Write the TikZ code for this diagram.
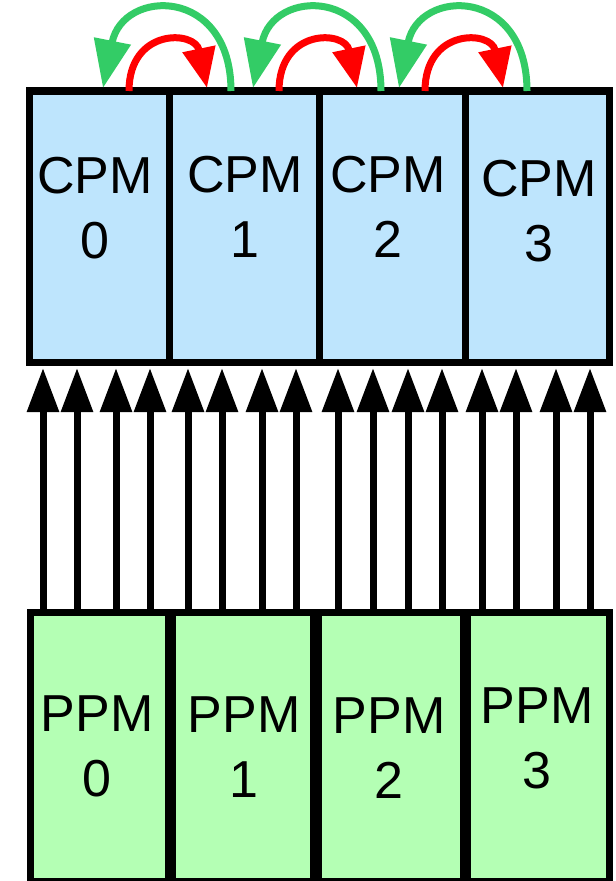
\documentclass[tikz,border=0pt]{standalone}
\usepackage{fontspec}
\setmainfont{Liberation Sans}
\usetikzlibrary{arrows.meta, calc}
\definecolor{cpmblue}{RGB}{190,229,253}
\definecolor{ppmgreen}{RGB}{180,255,180}
\definecolor{ringgreen}{RGB}{51,204,102}
\tikzset{
  % --- module boxes ---
  modbox/.style={draw, line width=5.25pt, inner sep=0pt, outer sep=0pt},
  cpmbox/.style={modbox, fill=cpmblue, minimum height=203.25pt},
  ppmbox/.style={modbox, fill=ppmgreen, minimum height=201.75pt},
  modtext/.style={font=\fontsize{39pt}{48.75pt}\selectfont, align=center, inner sep=0pt},
  % --- links ---
  bus/.style={line width=5.25pt, -{Triangle[length=33pt, width=23pt]}, shorten >=4.5pt},
  fwd/.style={red, line width=5.25pt, -{Triangle[length=30pt, width=24pt]}},
  bwd/.style={ringgreen, line width=5.25pt, -{Triangle[length=36pt, width=27pt]}},
}

\begin{document}
\begin{tikzpicture}[x=0.75pt, y=-0.75pt]
  \useasboundingbox (0,0) rectangle (616,881);
  % compute modules
  \node[cpmbox, minimum width=105pt]   (cpm0) at (99,226.5)  {};
  \node[cpmbox, minimum width=112.5pt] (cpm1) at (244,226.5) {};
  \node[cpmbox, minimum width=109.5pt] (cpm2) at (392,226.5) {};
  \node[cpmbox, minimum width=108pt]   (cpm3) at (537,226.5) {};
  \node[modtext] (cpm0txt) at (95,208)    {CPM\\0};
  \node[modtext] (cpm1txt) at (245,206.5) {CPM\\1};
  \node[modtext] (cpm2txt) at (388,207)   {CPM\\2};
  \node[modtext] (cpm3txt) at (539,211.5) {CPM\\3};
  % packet modules
  \node[ppmbox, minimum width=103.5pt]  (ppm0) at (99,746.5)  {};
  \node[ppmbox, minimum width=105.75pt] (ppm1) at (242.5,746.5) {};
  \node[ppmbox, minimum width=108.75pt] (ppm2) at (390.5,746.5) {};
  \node[ppmbox, minimum width=106.5pt]  (ppm3) at (538,746.5) {};
  \node[modtext] (ppm0txt) at (97,746.5)  {PPM\\0};
  \node[modtext] (ppm1txt) at (244,747.5) {PPM\\1};
  \node[modtext] (ppm2txt) at (389,748)   {PPM\\2};
  \node[modtext] (ppm3txt) at (537,738)   {PPM\\3};
  % four lanes from each PPM up to its CPM
  \foreach \x/\m in {43/0,77/0,116/0,150/0,188/1,222/1,262/1,296/1,
                     338/2,373/2,408/2,442/2,482/3,516/3,556/3,590/3}{
    \draw[bus] (\x,0 |- ppm\m.north) -- (\x,0 |- cpm\m.south);
  }
  % ring links between neighbouring CPMs
  \foreach \i/\j in {0/1,1/2,2/3}{
    \draw[bwd] ($(cpm\j.north west)+(62,0)$) .. controls +(0,-105) and +(20,-100)
      .. ($(cpm\i.north east)+(-66,-3)$);
    \draw[fwd] ($(cpm\i.north east)+(-40,0)$) .. controls +(0,-63) and +(-12,-58)
      .. ($(cpm\j.north west)+(38,-3)$);
  }
\end{tikzpicture}
\end{document}
